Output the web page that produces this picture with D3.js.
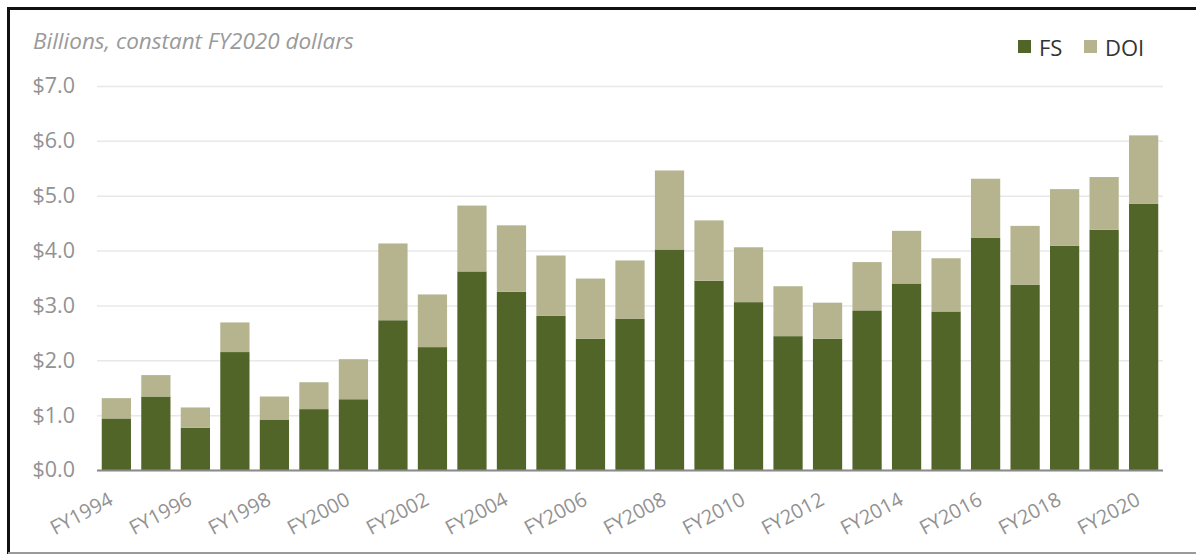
<!DOCTYPE html>
<html>
<head>
<meta charset="utf-8">
<script src="https://cdn.jsdelivr.net/npm/d3@7"></script>
<style>
  html, body { margin: 0; padding: 0; background: #fff; }
  svg { display: block; }
  text { font-family: "Open Sans", Lato, sans-serif; }
</style>
</head>
<body>
<svg id="chart" width="1196" height="555"></svg>
<script>
// Fiscal years shown on the category axis
const years = ["FY1994","FY1995","FY1996","FY1997","FY1998","FY1999","FY2000",
  "FY2001","FY2002","FY2003","FY2004","FY2005","FY2006","FY2007","FY2008",
  "FY2009","FY2010","FY2011","FY2012","FY2013","FY2014","FY2015","FY2016",
  "FY2017","FY2018","FY2019","FY2020"];

// Forest Service amounts (billions, constant FY2020 dollars)
const fsValues = [0.94,1.34,0.77,2.15,0.92,1.11,1.29,2.73,2.24,3.62,3.25,2.81,2.39,
  2.76,4.02,3.45,3.06,2.44,2.39,2.91,3.40,2.89,4.23,3.38,4.09,4.38,4.85];

// Department of the Interior amounts (billions, constant FY2020 dollars)
const doiValues = [0.37,0.39,0.37,0.54,0.42,0.49,0.73,1.40,0.96,1.20,1.21,1.10,1.10,
  1.06,1.44,1.10,1.00,0.91,0.66,0.88,0.96,0.97,1.08,1.07,1.03,0.96,1.25];

const yTicks = [0,1,2,3,4,5,6,7];
const seriesNames = ["FS","DOI"];
const colors = { FS: "#526529", DOI: "#b5b48f" };

const svg = d3.select("#chart");
const W = 1196, H = 555;
const FONT = "'Open Sans', Lato, sans-serif";

const rows = years.map((y, i) => ({ year: y, FS: fsValues[i], DOI: doiValues[i] }));
const stacked = d3.stack().keys(seriesNames)(rows);

const x = d3.scaleBand().domain(years).range([97, 1163])
  .paddingInner(0.26).paddingOuter(0.12);
const y = d3.scaleLinear().domain([0, 7]).range([470, 86]);

// frame
svg.append("line").attr("x1", 8).attr("x2", W).attr("y1", 8.5).attr("y2", 8.5)
  .attr("stroke", "#111").attr("stroke-width", 3);
svg.append("line").attr("x1", 8.5).attr("x2", 8.5).attr("y1", 7).attr("y2", 554)
  .attr("stroke", "#111").attr("stroke-width", 3);
svg.append("line").attr("x1", 8).attr("x2", W).attr("y1", 553).attr("y2", 553)
  .attr("stroke", "#9a9a9a").attr("stroke-width", 2);

// gridlines + y labels
const yAxis = d3.axisLeft(y).tickValues(yTicks)
  .tickFormat(d => "$" + d3.format(".1f")(d))
  .tickSize(-(1163 - 97)).tickPadding(22);
const gy = svg.append("g").attr("transform", "translate(97,0)").call(yAxis);
gy.select(".domain").remove();
gy.selectAll(".tick line").attr("stroke", "#e8e8e8").attr("stroke-width", 1.5);
gy.selectAll(".tick text").attr("fill", "#929292").attr("font-size", 21.5)
  .style("font-family", FONT);

// stacked bars
svg.append("g").selectAll("g").data(stacked).join("g")
  .attr("fill", d => colors[d.key])
  .selectAll("rect").data(d => d).join("rect")
  .attr("x", d => x(d.data.year))
  .attr("width", x.bandwidth())
  .attr("y", d => y(d[1]))
  .attr("height", d => y(d[0]) - y(d[1]));

// baseline
svg.append("line").attr("x1", 97).attr("x2", 1163)
  .attr("y1", y(0) + 0.5).attr("y2", y(0) + 0.5)
  .attr("stroke", "#8a8a8a").attr("stroke-width", 2);

// x labels, every other year
const xAxis = d3.axisBottom(x).tickValues(years.filter((d, i) => i % 2 === 0)).tickSize(0);
const gx = svg.append("g").call(xAxis);
gx.select(".domain").remove();
gx.selectAll(".tick").attr("transform", null);
gx.selectAll(".tick text")
  .attr("text-anchor", "end")
  .attr("dy", null).attr("y", null)
  .attr("transform", d => `translate(${x(d) + x.bandwidth() / 2 - 2},504) rotate(-28)`)
  .attr("fill", "#929292").attr("font-size", 20)
  .style("font-family", FONT);

// axis caption
svg.append("text").attr("x", 33).attr("y", 49)
  .attr("font-style", "italic").attr("font-size", 22.5).attr("fill", "#9a9a9a")
  .style("font-family", FONT)
  .text("Billions, constant FY2020 dollars");

// legend
const legendItems = [
  { key: "FS", sx: 1018, tx: 1039 },
  { key: "DOI", sx: 1084, tx: 1105 }
];
const lg = svg.append("g");
lg.selectAll("rect").data(legendItems).join("rect")
  .attr("x", d => d.sx).attr("y", 40).attr("width", 13).attr("height", 13)
  .attr("fill", d => colors[d.key]);
lg.selectAll("text").data(legendItems).join("text")
  .attr("x", d => d.tx).attr("y", 56)
  .attr("font-size", 22).attr("fill", "#333")
  .style("font-family", FONT)
  .text(d => d.key);
</script>
</body>
</html>
